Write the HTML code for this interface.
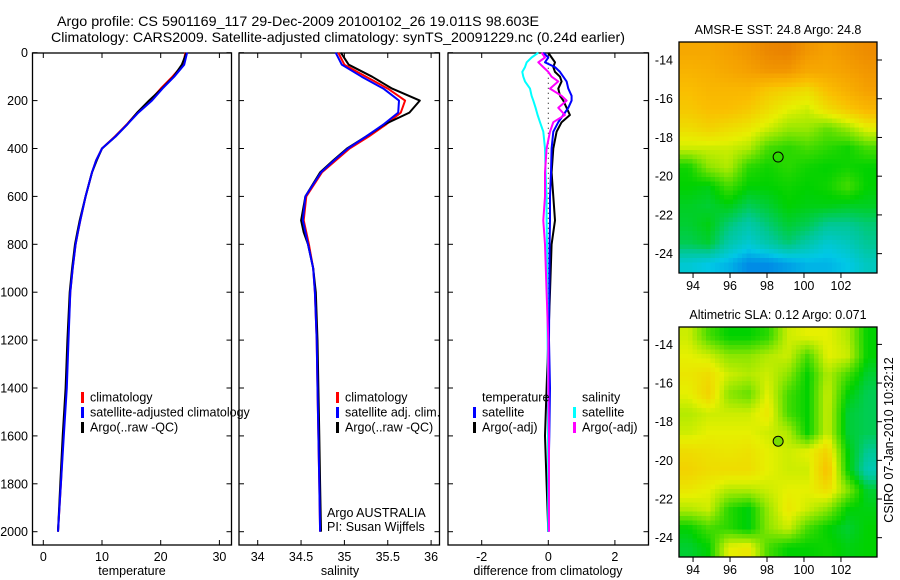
<!DOCTYPE html>
<html><head><meta charset="utf-8">
<style>
html,body{margin:0;padding:0;background:#fff;}
svg{display:block;font-family:"Liberation Sans","DejaVu Sans",sans-serif;}
</style></head>
<body>
<svg id="chart" width="900" height="580" viewBox="0 0 900 580" xmlns="http://www.w3.org/2000/svg">
<rect x="0" y="0" width="900" height="580" fill="#fff"/>
<text x="298" y="26" font-size="14" text-anchor="middle" textLength="482" lengthAdjust="spacingAndGlyphs">Argo profile: CS 5901169_117 29-Dec-2009 20100102_26 19.011S 98.603E</text>
<text x="338" y="42" font-size="14" text-anchor="middle" textLength="574" lengthAdjust="spacingAndGlyphs">Climatology: CARS2009. Satellite-adjusted climatology: synTS_20091229.nc (0.24d earlier)</text>
<g id="g"></g>
</svg>
<script>
// ---------- data ----------
const depths = [0,50,100,150,200,250,300,350,400,450,500,600,700,750,800,900,1000,1200,1400,1600,1800,2000];
const tempClim = [24.2,23.8,22,20,18.2,16,14.2,12.2,10,9,8.3,7.2,6.3,5.9,5.5,5,4.6,4.2,3.9,3.4,3,2.5];
const tempSat  = [24.5,24,22.3,20.3,18.5,16.2,14.3,12.3,10,9,8.3,7.2,6.3,5.9,5.5,5,4.6,4.3,4.0,3.5,3.0,2.5];
const tempArgo = [24.4,23.6,22.2,20.2,18.0,16.0,14.3,12.3,10,9.1,8.3,7.2,6.2,5.8,5.4,4.9,4.5,4.1,3.8,3.3,2.9,2.5];
const salClim = [34.93,35.0,35.25,35.5,35.7,35.65,35.48,35.28,35.06,34.9,34.74,34.56,34.53,34.56,34.59,34.64,34.66,34.68,34.69,34.7,34.71,34.72];
const salSat  = [34.9,34.97,35.2,35.45,35.63,35.62,35.45,35.25,35.04,34.88,34.73,34.55,34.52,34.55,34.58,34.64,34.66,34.68,34.69,34.7,34.71,34.72];
const salArgo = [34.96,35.05,35.32,35.55,35.87,35.75,35.46,35.25,35.03,34.87,34.72,34.55,34.5,34.53,34.58,34.64,34.67,34.69,34.7,34.71,34.72,34.73];
const diffDepths = [0,20,40,60,80,100,120,150,180,200,230,260,290,330,400,500,600,700,800,1000,1200,1400,1600,1800,2000];
const diffTempSat  = [-0.15,0,-0.1,0.2,0.35,0.45,0.55,0.6,0.7,0.7,0.6,0.45,0.3,0.15,0.1,0.08,0.05,0.05,0.04,0.03,0.02,0.05,0.03,0,0];
const diffTempArgo = [0,0.1,0.2,0.15,0.2,0.35,0.4,0.3,0.35,0.45,0.55,0.65,0.4,0.25,0.15,0.1,0.15,0.2,0.1,0.05,0,-0.05,-0.1,-0.05,0];
const diffSalSat   = [-0.3,-0.5,-0.65,-0.7,-0.78,-0.75,-0.7,-0.55,-0.5,-0.45,-0.38,-0.32,-0.25,-0.15,-0.1,-0.08,-0.05,-0.05,-0.04,-0.03,-0.02,-0.01,-0.01,0,0];
const diffSalArgo  = [-0.2,-0.1,-0.3,-0.15,0,0.1,0.3,0.05,0.4,0.55,0.3,0.5,0.15,0.05,-0.05,-0.1,-0.1,-0.15,-0.1,-0.05,0,0,0.02,0.02,0.02];
const depthTicks = [0,200,400,600,800,1000,1200,1400,1600,1800,2000];
const tempTicks = [0,10,20,30];
const salTicks = [34,34.5,35,35.5,36];
const diffTicks = [-2,0,2];
const lonTicks = [94,96,98,100,102];
const latTicks = [-14,-16,-18,-20,-22,-24];
const sstGrid = [
[0.78,0.78,0.8,0.82,0.85,0.86,0.82,0.8,0.82,0.84],
[0.75,0.76,0.78,0.8,0.82,0.82,0.78,0.78,0.8,0.82],
[0.72,0.74,0.74,0.74,0.7,0.68,0.66,0.72,0.76,0.8],
[0.7,0.72,0.72,0.7,0.66,0.62,0.6,0.66,0.7,0.74],
[0.66,0.68,0.66,0.64,0.6,0.56,0.56,0.52,0.56,0.62],
[0.6,0.6,0.6,0.58,0.5,0.48,0.5,0.48,0.46,0.5],
[0.46,0.55,0.58,0.48,0.46,0.48,0.46,0.45,0.46,0.45],
[0.45,0.44,0.5,0.45,0.45,0.46,0.45,0.46,0.5,0.45],
[0.43,0.42,0.44,0.4,0.42,0.45,0.44,0.44,0.43,0.43],
[0.42,0.44,0.38,0.34,0.38,0.42,0.4,0.36,0.36,0.38],
[0.4,0.42,0.34,0.3,0.34,0.38,0.34,0.3,0.32,0.36],
[0.3,0.28,0.26,0.22,0.22,0.24,0.26,0.26,0.28,0.32]];
const slaGrid = [
[0.6,0.5,0.45,0.45,0.48,0.6,0.62,0.62,0.58,0.45],
[0.62,0.6,0.55,0.55,0.58,0.6,0.5,0.62,0.6,0.45],
[0.64,0.66,0.6,0.58,0.6,0.55,0.45,0.58,0.5,0.42],
[0.62,0.68,0.55,0.52,0.62,0.5,0.45,0.6,0.45,0.4],
[0.58,0.6,0.6,0.6,0.64,0.5,0.45,0.6,0.42,0.4],
[0.6,0.62,0.62,0.62,0.6,0.58,0.45,0.6,0.42,0.4],
[0.66,0.65,0.64,0.65,0.62,0.6,0.62,0.68,0.45,0.36],
[0.68,0.66,0.66,0.66,0.62,0.6,0.6,0.72,0.46,0.33],
[0.64,0.62,0.58,0.58,0.6,0.62,0.62,0.66,0.55,0.42],
[0.58,0.6,0.48,0.44,0.56,0.64,0.6,0.55,0.45,0.44],
[0.45,0.5,0.48,0.44,0.55,0.6,0.5,0.45,0.42,0.45],
[0.42,0.45,0.62,0.64,0.5,0.45,0.45,0.46,0.44,0.45]];
const argoLon = 98.603, argoLat = -19.011;

// ---------- helpers ----------
const NS="http://www.w3.org/2000/svg";
const G=document.getElementById('g');
function mk(tag,attrs,parent){const e=document.createElementNS(NS,tag);for(const k in attrs)e.setAttribute(k,attrs[k]);(parent||G).appendChild(e);return e;}
const yD = d => 52.7 + d*0.2395;
const PT=53, PB=545;
const panels=[
 {name:'temperature',x0:32.5,x1:231.5,fx:v=>43.3+v*5.87,ticks:tempTicks,label:'temperature',lx:132},
 {name:'salinity',x0:239,x1:439.5,fx:v=>257.7+(v-34)*86.7,ticks:salTicks,label:'salinity',lx:340},
 {name:'difference',x0:448,x1:648.5,fx:v=>548.3+v*33.3,ticks:diffTicks,label:'difference from climatology',lx:548}
];
panels.forEach((p,i)=>{
  const grp=mk('g',{});
  
  
  const r=mk('rect',{x:p.x0,y:PT,width:p.x1-p.x0,height:PB-PT,fill:'none',stroke:'#000','stroke-width':1.3},grp);
  
  
  p.ticks.forEach(t=>{
    const x=p.fx(t);
    mk('line',{x1:x,x2:x,y1:PB,y2:PB-5,stroke:'#000'},grp);
    mk('line',{x1:x,x2:x,y1:PT,y2:PT+5,stroke:'#000'},grp);
    const tx=mk('text',{x:x,y:PB+16,'font-size':12.5,'text-anchor':'middle'},grp);
    tx.textContent=t;
    
    
  });
  depthTicks.forEach(d=>{
    const y=yD(d);
    mk('line',{x1:p.x0,x2:p.x0+5,y1:y,y2:y,stroke:'#000'},grp);
    mk('line',{x1:p.x1,x2:p.x1-5,y1:y,y2:y,stroke:'#000'},grp);
    if(i===0){
      const tx=mk('text',{x:28,y:y+4.5,'font-size':12.5,'text-anchor':'end'},grp);
      tx.textContent=d;
      
      
    }
  });
  const xl=mk('text',{x:p.lx,y:575,'font-size':12.5,'text-anchor':'middle'},grp);
  xl.textContent=p.label;
  
  
});
function line(p,ds,vals,color,name,w){
  const pts=ds.map((d,k)=>p.fx(vals[k]).toFixed(1)+','+yD(d).toFixed(1)).join(' ');
  const e=mk('polyline',{points:pts,fill:'none',stroke:color,'stroke-width':w||2,'stroke-linejoin':'round'});
  
  
}
line(panels[0],depths,tempClim,'#f00','temp-climatology-line');
line(panels[0],depths,tempArgo,'#000','temp-argo-line');
line(panels[0],depths,tempSat,'#00f','temp-satellite-line');
line(panels[1],depths,salClim,'#f00','sal-climatology-line');
line(panels[1],depths,salArgo,'#000','sal-argo-line');
line(panels[1],depths,salSat,'#00f','sal-satellite-line');
const zl=mk('line',{x1:panels[2].fx(0),x2:panels[2].fx(0),y1:yD(0),y2:yD(2000),stroke:'#000','stroke-dasharray':'1,4'});


line(panels[2],diffDepths,diffTempArgo,'#000','diff-temp-argo-line');
line(panels[2],diffDepths,diffTempSat,'#00f','diff-temp-satellite-line');
line(panels[2],diffDepths,diffSalSat,'#0ff','diff-sal-satellite-line');
line(panels[2],diffDepths,diffSalArgo,'#f0f','diff-sal-argo-line');

function legend(x,y,color,label){
  const grp=mk('g',{});
  
  
  if(color) mk('rect',{x:x-9,y:y-5,width:3,height:11,fill:color},grp);
  const t=mk('text',{x:x,y:y+4.5,'font-size':12.5},grp);
  t.textContent=label;
}
legend(90,397,'#f00','climatology');
legend(90,412,'#00f','satellite-adjusted climatology');
legend(90,427,'#000','Argo(..raw -QC)');
legend(345,397,'#f00','climatology');
legend(345,412,'#00f','satellite adj. clim.');
legend(345,427,'#000','Argo(..raw -QC)');
legend(482,397,null,'temperature');
legend(482,412,'#00f','satellite');
legend(482,427,'#000','Argo(-adj)');
legend(582,397,null,'salinity');
legend(582,412,'#0ff','satellite');
legend(582,427,'#f0f','Argo(-adj)');
const a1=mk('text',{x:327,y:517,'font-size':12.5});a1.textContent='Argo AUSTRALIA';


const a2=mk('text',{x:327,y:531,'font-size':12.5});a2.textContent='PI: Susan Wijffels';



// ---------- maps ----------
const stops=[[0.2,[0,120,230]],[0.28,[0,200,230]],[0.36,[0,200,150]],[0.45,[0,210,0]],[0.55,[140,230,0]],[0.62,[230,240,0]],[0.72,[250,190,0]],[0.8,[245,160,0]],[0.88,[230,120,0]]];
function cmap(v){
  if(v<=stops[0][0])return stops[0][1];
  for(let i=1;i<stops.length;i++){if(v<=stops[i][0]){const a=stops[i-1],b=stops[i];const t=(v-a[0])/(b[0]-a[0]);return a[1].map((c,k)=>Math.round(c+(b[1][k]-c)*t));}}
  return stops[stops.length-1][1];
}
function sample(grid,fx,fy){
  const R=grid.length,C=grid[0].length;
  let gx=fx*C-0.5,gy=fy*R-0.5;
  gx=Math.max(0,Math.min(C-1.001,gx));gy=Math.max(0,Math.min(R-1.001,gy));
  const i=Math.floor(gy),j=Math.floor(gx),ty=gy-i,tx=gx-j;
  return grid[i][j]*(1-tx)*(1-ty)+grid[i][j+1]*tx*(1-ty)+grid[i+1][j]*(1-tx)*ty+grid[i+1][j+1]*tx*ty;
}
function drawMap(name,grid,top,bottom,latTop,latBot,title,filledCircle){
  const L=679,Rr=877,lonL=93.24,lonR=103.95;
  const fx=lon=>L+(lon-lonL)/(lonR-lonL)*(Rr-L);
  const fy=lat=>top+(latTop-lat)/(latTop-latBot)*(bottom-top);
  const grp=mk('g',{});
  
  
  const cs=4.5;
  for(let y=top;y<bottom;y+=cs){for(let x=L;x<Rr;x+=cs){
    const v=sample(grid,(x+cs/2-L)/(Rr-L),(y+cs/2-top)/(bottom-top));
    const c=cmap(v);
    mk('rect',{x:x,y:y,width:Math.min(cs,Rr-x)+0.4,height:Math.min(cs,bottom-y)+0.4,fill:'rgb('+c.join(',')+')'},grp);
  }}
  mk('rect',{x:L,y:top,width:Rr-L,height:bottom-top,fill:'none',stroke:'#000','stroke-width':1.3},grp);
  lonTicks.forEach(t=>{const x=fx(t);mk('line',{x1:x,x2:x,y1:bottom,y2:bottom+5,stroke:'#000'},grp);
    const tx=mk('text',{x:x,y:bottom+17,'font-size':12.5,'text-anchor':'middle'},grp);tx.textContent=t;});
  latTicks.forEach(t=>{const y=fy(t);mk('line',{x1:Rr,x2:Rr+5,y1:y,y2:y,stroke:'#000'},grp);
    const tx=mk('text',{x:673,y:y+4.5,'font-size':12.5,'text-anchor':'end'},grp);tx.textContent=t;});
  const tt=mk('text',{x:778,y:top-8,'font-size':12.5,'text-anchor':'middle'},grp);tt.textContent=title;
  
  
  const c=mk('circle',{cx:fx(argoLon),cy:fy(argoLat),r:5,fill:filledCircle?'rgb(120,220,0)':'none',stroke:'#000','stroke-width':1},grp);
  
  
}
drawMap('sst-map',sstGrid,42,273,-13.07,-25.0,'AMSR-E SST: 24.8 Argo: 24.8',false);
drawMap('sla-map',slaGrid,327,557,-13.1,-25.0,'Altimetric SLA: 0.12 Argo: 0.071',true);
const cs=mk('text',{x:0,y:0,'font-size':12.5,'text-anchor':'middle',transform:'translate(893,440) rotate(-90)'});
cs.textContent='CSIRO 07-Jan-2010 10:32:12';


</script>
</body></html>
